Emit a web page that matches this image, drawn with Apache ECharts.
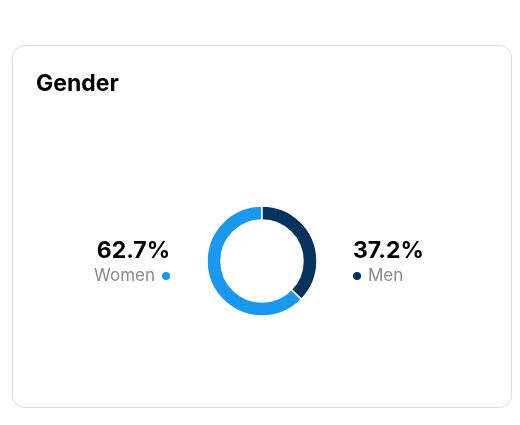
<!DOCTYPE html>
<html><head><meta charset="utf-8">
<script src="https://cdn.jsdelivr.net/npm/echarts@6/dist/echarts.min.js"></script>
<style>html,body{margin:0;padding:0;background:#fff}#c{width:520px;height:425px}</style>
</head><body><div id="c"></div>
<script>
const categories = ['Women', 'Men'];
const values = [62.7, 37.2];
const colors = ['#1a98ef', '#06325f'];
const title = 'Gender';

const chart = echarts.init(document.getElementById('c'), null, {renderer: 'canvas'});
const font = 'Inter, "Liberation Sans", sans-serif';
chart.setOption({
  animation: false,
  graphic: [
    {type: 'rect', shape: {x: 12.5, y: 45.5, width: 499, height: 362, r: 12},
     style: {fill: '#fff', stroke: '#dcdcdc', lineWidth: 1}, z: 0},
    {type: 'text', x: 36, y: 84, style: {text: title, font: 'bold 23px ' + font, fill: '#000', textVerticalAlign: 'middle'}},
    {type: 'text', x: 170, y: 251, style: {text: values[0].toFixed(1) + '%', font: 'bold 23px ' + font, fill: '#000', textAlign: 'right', textVerticalAlign: 'middle'}},
    {type: 'text', x: 155, y: 276, style: {text: categories[0], font: '17px ' + font, fill: '#8a8a8a', textAlign: 'right', textVerticalAlign: 'middle'}},
    {type: 'circle', shape: {cx: 166, cy: 276, r: 4}, style: {fill: colors[0]}},
    {type: 'text', x: 353, y: 251, style: {text: values[1].toFixed(1) + '%', font: 'bold 23px ' + font, fill: '#000', textAlign: 'left', textVerticalAlign: 'middle'}},
    {type: 'circle', shape: {cx: 357, cy: 276, r: 4}, style: {fill: colors[1]}},
    {type: 'text', x: 368, y: 276, style: {text: categories[1], font: '17px ' + font, fill: '#8a8a8a', textAlign: 'left', textVerticalAlign: 'middle'}}
  ],
  series: [{
    type: 'pie',
    center: [262, 261],
    radius: [41, 55],
    startAngle: 90,
    clockwise: false,
    label: {show: false},
    labelLine: {show: false},
    emphasis: {disabled: true},
    itemStyle: {borderColor: '#fff', borderWidth: 1.5},
    data: categories.map((c, i) => ({name: c, value: values[i], itemStyle: {color: colors[i]}}))
  }]
});
</script></body></html>
